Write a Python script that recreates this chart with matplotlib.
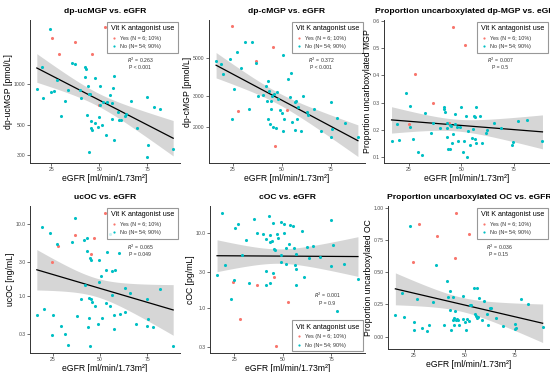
import numpy as np
import matplotlib
matplotlib.use('Agg')
import matplotlib.pyplot as plt
from matplotlib.lines import Line2D

plt.rcParams['font.family'] = ['Liberation Sans', 'DejaVu Sans']

# ---- data ----
# 1. dp-ucMGP [pmol/L]
ucmgp_yes_x = [25.5, 37.5, 53.0, 28.8, 46.0, 50.0]
ucmgp_yes_y = [2175, 2050, 2655, 1660, 1670, 700]
ucmgp_no_x = [24.1, 20.3, 17.4, 20.8, 26.3, 27.7, 33.5, 32.3, 30.1, 35.7, 37.5, 40.6, 42.3, 43.2,
              42.3, 44.1, 44.5, 43.7, 45.4, 45.9, 46.3, 44.5, 47.7, 47.7, 49.2, 49.9, 50.3, 50.6,
              51.5, 53.5, 54.0, 55.3, 56.6, 57.2, 56.8, 57.9, 57.7, 59.9, 60.5, 61.4, 63.2, 66.3,
              69.4, 74.8, 75.4, 74.6, 78.3, 81.5, 88.5, 40.0, 25.0, 52.0, 64.0, 45.0]
ucmgp_no_y = [2535, 1337, 915, 791, 895, 1075, 900, 757, 582, 1429, 1406, 787, 1337, 1300,
              1124, 962, 841, 589, 532, 476, 458, 315, 1100, 517, 481, 569, 962, 703,
              504, 421, 736, 828, 728, 940, 557, 1143, 390, 622, 547, 544, 582, 754,
              476, 805, 356, 293, 678, 652, 334, 904, 880, 740, 600, 840]

# 2. dp-cMGP [pmol/L]
cmgp_yes_x = [24.6, 45.6, 36.9, 27.8, 52.4, 46.7]
cmgp_yes_y = [7650, 5800, 4820, 2460, 2505, 1540]
cmgp_no_x = [16.5, 19.1, 20.2, 23.5, 26.9, 25.6, 24.6, 29.4, 31.1, 34.8, 36.9, 33.1, 40.2, 42.0,
             42.9, 42.6, 43.5, 44.8, 44.4, 44.3, 42.9, 43.9, 45.7, 47.0, 47.4, 49.1, 50.0, 50.4,
             50.8, 51.3, 53.0, 54.3, 54.8, 55.4, 56.5, 56.5, 57.4, 57.8, 59.8, 60.6, 62.6, 63.3,
             66.1, 69.8, 75.0, 75.0, 75.7, 78.1, 81.9, 88.7, 46.0, 38.0, 58.0, 48.0]
cmgp_no_y = [4800, 4655, 4045, 4955, 5460, 3300, 2200, 4400, 6200, 6200, 4720, 2535, 3070, 3455,
             3690, 2830, 3220, 3030, 2830, 2517, 2205, 2065, 1980, 1970, 3160, 2484, 2410, 1876,
             5240, 2205, 3785, 2985, 4075, 2135, 1905, 2785, 2833, 2205, 1890, 3030, 2428, 2322,
             2516, 1876, 2785, 1740, 1930, 2254, 2110, 1745, 3100, 3000, 2600, 2900]

# 3. proportion uncarboxylated dp-MGP
pmgp_yes_x = [46.2, 51.9, 28.0, 36.6, 24.8, 43.9]
pmgp_yes_y = [0.580, 0.512, 0.404, 0.298, 0.223, 0.224]
pmgp_no_x = [16.6, 19.3, 20.2, 23.4, 25.2, 25.4, 27.0, 29.4, 31.2, 32.7, 35.5, 36.6, 39.8, 41.5,
             41.5, 42.4, 43.0, 43.3, 43.3, 43.7, 44.4, 44.8, 45.1, 45.6, 46.2, 46.9, 46.9, 47.8,
             48.3, 49.2, 49.7, 50.6, 51.5, 52.2, 52.8, 53.3, 54.0, 54.9, 55.8, 56.0, 56.5, 56.5,
             56.9, 57.2, 59.0, 59.9, 61.7, 62.1, 65.7, 68.8, 74.1, 74.6, 77.3, 81.2, 88.8]
pmgp_no_y = [0.160, 0.223, 0.163, 0.337, 0.286, 0.211, 0.166, 0.118, 0.107, 0.263, 0.187, 0.227,
             0.205, 0.283, 0.275, 0.265, 0.208, 0.227, 0.172, 0.130, 0.130, 0.218, 0.214, 0.151,
             0.184, 0.220, 0.257, 0.212, 0.159, 0.212, 0.283, 0.118, 0.160, 0.251, 0.102, 0.194,
             0.145, 0.169, 0.202, 0.251, 0.249, 0.166, 0.151, 0.283, 0.251, 0.151, 0.187, 0.199,
             0.227, 0.205, 0.146, 0.157, 0.233, 0.235, 0.160]

# 4. ucOC [ng/mL]
ucoc_yes_x = [52.6, 36.6, 46.5, 27.8, 45.4, 24.4]
ucoc_yes_y = [14.5, 7.1, 6.5, 4.93, 3.9, 2.98]
ucoc_no_x = [19.1, 23.2, 26.9, 34.9, 36.6, 41.5, 43.0, 42.8, 44.9, 45.2, 49.3, 53.5, 55.3, 59.9,
             52.9, 56.4, 57.7, 50.7, 49.4, 41.9, 56.1, 63.0, 65.8, 82.0, 39.7, 43.9, 45.2, 45.6,
             47.1, 52.9, 55.3, 63.0, 75.0, 75.6, 20.0, 16.4, 25.0, 37.9, 43.9, 51.1, 57.2, 60.3,
             29.2, 43.8, 49.1, 57.2, 69.1, 75.0, 78.3, 24.6, 31.1, 32.7, 44.7, 88.8]
ucoc_no_y = [9.18, 7.65, 5.26, 5.66, 12.4, 6.1, 6.4, 4.25, 3.36, 3.2, 3.15, 4.11, 7.25, 3.93,
             2.28, 2.23, 2.28, 1.9, 1.57, 1.41, 1.05, 1.31, 1.09, 1.24, 0.918, 0.95, 0.918, 0.824,
             0.725, 0.8, 0.725, 0.6, 0.918, 0.483, 0.652, 0.544, 0.544, 0.537, 0.488, 0.488, 0.544, 0.565,
             0.381, 0.375, 0.403, 0.35, 0.414, 0.385, 0.375, 0.292, 0.301, 0.212, 0.2, 0.2]

# 5. cOC [ng/mL]
coc_yes_x = [24.4, 36.4, 45.4, 52.4, 27.9, 46.3]
coc_yes_y = [2.24, 2.02, 2.64, 1.19, 0.719, 0.305]
coc_no_x = [18.8, 26.7, 25.2, 30.9, 34.9, 36.4, 39.9, 41.3, 42.8, 43.5, 44.7, 44.5, 43.2, 47.2,
            49.1, 50.6, 50.8, 51.5, 53.0, 53.9, 55.1, 55.7, 56.6, 56.4, 56.6, 45.4, 46.0, 49.3,
            48.8, 51.5, 44.7, 41.3, 41.3, 43.5, 32.5, 25.0, 16.0, 20.0, 29.0, 57.0, 60.7, 59.7,
            62.5, 63.4, 65.6, 69.3, 75.0, 75.7, 75.0, 81.8, 88.8, 23.0, 77.8, 47.5]
coc_no_y = [19.0, 13.2, 11.9, 8.05, 15.7, 10.0, 9.9, 8.3, 17.1, 9.4, 13.9, 7.9, 7.6, 9.9,
            14.2, 13.2, 10.0, 6.4, 7.26, 12.8, 12.5, 6.4, 5.33, 3.75, 3.38, 6.1, 6.0, 5.2,
            4.16, 3.91, 2.9, 3.11, 2.06, 2.17, 2.17, 2.36, 2.75, 3.75, 5.06, 2.02, 2.64, 10.7,
            6.55, 4.7, 6.76, 4.86, 15.1, 6.9, 3.64, 3.83, 2.48, 1.32, 0.92, 8.8]

# 6. proportion uncarboxylated OC
poc_yes_x = [46.0, 27.6, 36.2, 52.0, 45.2, 24.4]
poc_yes_y = [0.962, 0.873, 0.782, 0.792, 0.608, 0.577]
poc_no_x = [23.0, 36.0, 15.8, 18.9, 20.0, 25.0, 25.0, 26.3, 29.0, 31.2, 32.4, 34.6, 39.7, 41.4,
            41.9, 42.8, 42.8, 43.2, 44.1, 44.1, 44.7, 44.9, 45.2, 46.0, 46.1, 47.0, 47.4, 49.3,
            49.3, 50.2, 50.7, 51.1, 52.4, 52.9, 53.3, 54.8, 55.3, 55.7, 56.3, 56.6, 56.3, 57.0,
            58.5, 59.7, 61.2, 62.5, 63.0, 61.8, 65.4, 69.1, 75.0, 75.4, 75.0, 77.9, 81.4, 88.6]
poc_no_y = [0.856, 0.557, 0.170, 0.337, 0.152, 0.116, 0.048, 0.291, 0.071, 0.046, 0.089, 0.266,
            0.089, 0.430, 0.311, 0.354, 0.203, 0.051, 0.304, 0.127, 0.144, 0.094, 0.200, 0.127,
            0.139, 0.132, 0.089, 0.316, 0.139, 0.114, 0.048, 0.134, 0.119, 0.248, 0.248, 0.380,
            0.177, 0.157, 0.147, 0.152, 0.380, 0.299, 0.127, 0.278, 0.177, 0.223, 0.223, 0.089,
            0.144, 0.084, 0.096, 0.068, 0.058, 0.291, 0.253, 0.078]

titles = ['dp-ucMGP vs. eGFR', 'dp-cMGP vs. eGFR', 'Proportion uncarboxylated dp-MGP vs. eGFR',
          'ucOC vs. eGFR', 'cOC vs. eGFR', 'Proportion uncarboxylated OC vs. eGFR']
ylabels = ['dp-ucMGP [pmol/L]', 'dp-cMGP [pmol/L]', 'Proportion uncarboxylated MGP',
           'ucOC [ng/mL]', 'cOC [pg/mL]', 'Proportion uncarboxylated OC']
r2_texts = ['0.263', '0.372', '0.007', '0.065', '0.001', '0.036']
p_texts = ['P < 0.001', 'P < 0.001', 'P = 0.5', 'P = 0.049', 'P = 0.9', 'P = 0.15']
yticks = [[300, 500, 1000], [2000, 3000, 5000], [0.1, 0.2, 0.3, 0.4, 0.5, 0.6],
          [0.3, 1.0, 3.0, 10.0], [0.3, 1.0, 3.0, 10.0], [0.0, 0.25, 0.5, 0.75, 1.0]]
ytick_labels = [['300', '500', '1000'], ['2000', '3000', '5000'],
                ['0.1', '0.2', '0.3', '0.4', '0.5', '0.6'],
                ['0.3', '1.0', '3.0', '10.0'], ['0.3', '1.0', '3.0', '10.0'],
                ['0.00', '0.25', '0.50', '0.75', '1.00']]
legend_labels = ['Yes (N = 6; 10%)', 'No (N= 54; 90%)']

RED = '#F8766D'
CYAN = '#00BFC4'
W, H = 550.0, 372.0


def panel(fig, box, title, ylabel, yes_x, yes_y, no_x, no_y, log, ticks, tlabels,
          r2, p, leg_loc, txt_xy):
    l, t, r, b = box
    ax = fig.add_axes([l / W, 1 - b / H, (r - l) / W, (b - t) / H])
    x = np.array(yes_x + no_x, dtype=float)
    y = np.array(yes_y + no_y, dtype=float)
    yt = np.log10(y) if log else y
    slope, inter = np.polyfit(x, yt, 1)
    n = len(x)
    s = np.sqrt(np.sum((yt - (inter + slope * x)) ** 2) / (n - 2))
    xs = np.linspace(x.min(), x.max(), 100)
    pred = inter + slope * xs
    se = s * np.sqrt(1.0 / n + (xs - x.mean()) ** 2 / np.sum((x - x.mean()) ** 2))
    lo, hi = pred - 2.0 * se, pred + 2.0 * se
    allv = np.concatenate([yt, lo, hi])
    ymin, ymax = allv.min(), allv.max()
    pad = 0.05 * (ymax - ymin)
    ymin, ymax = ymin - pad, ymax + pad
    if log:
        ax.set_yscale('log')
        pred, lo, hi = 10 ** pred, 10 ** lo, 10 ** hi
        ymin, ymax = 10 ** ymin, 10 ** ymax
    ax.fill_between(xs, lo, hi, color='#999999', alpha=0.4, lw=0, zorder=2)
    ax.plot(xs, pred, color='black', lw=0.9, zorder=3)
    ax.scatter(yes_x, yes_y, s=5, color=RED, lw=0, zorder=4)
    ax.scatter(no_x, no_y, s=5, color=CYAN, lw=0, zorder=4)
    xpad = 0.05 * (x.max() - x.min())
    ax.set_xlim(x.min() - xpad, x.max() + xpad)
    ax.set_ylim(ymin, ymax)
    ax.set_xticks([25, 50, 75])
    ax.set_xticklabels(['25', '50', '75'])
    ax.set_yticks(ticks)
    ax.set_yticklabels(tlabels)
    ax.minorticks_off()
    for sp in ['top', 'right']:
        ax.spines[sp].set_visible(False)
    for sp in ['left', 'bottom']:
        ax.spines[sp].set_color('#333333')
        ax.spines[sp].set_linewidth(0.7)
    ax.tick_params(length=2, width=0.5, color='#333333', labelsize=3.7,
                   labelcolor='#4d4d4d', pad=1.2)
    ax.set_title(title, fontsize=6.1, fontweight='bold', pad=5)
    ax.set_ylabel(ylabel, fontsize=6.2, labelpad=0.5)
    ax.set_xlabel('eGFR [ml/min/1.73m²]', fontsize=6.2, labelpad=1)
    ax.text(txt_xy[0], txt_xy[1], '$R^2$ = ' + r2, transform=ax.transAxes,
            ha='center', va='center', fontsize=3.7, color='#333333')
    ax.text(txt_xy[0], txt_xy[1] - 0.05, p, transform=ax.transAxes,
            ha='center', va='center', fontsize=3.7, color='#333333')
    handles = [Line2D([], [], ls='none', marker='o', ms=1.6, mfc=RED, mec='none'),
               Line2D([], [], ls='none', marker='o', ms=1.6, mfc=CYAN, mec='none')]
    leg = ax.legend(handles, legend_labels, title='Vit K antagonist use', loc=leg_loc,
                    fontsize=3.9, title_fontsize=5.1, frameon=True, fancybox=False,
                    borderaxespad=0.3, handlelength=1.2, handletextpad=0.4,
                    borderpad=0.7, labelspacing=0.6)
    leg.get_frame().set_edgecolor('#7f7f7f')
    leg.get_frame().set_linewidth(0.8)
    leg._legend_box.align = 'left'
    for tx in leg.get_texts():
        tx.set_color('#333333')
    return ax


fig = plt.figure(figsize=(5.5, 3.72), dpi=100)
# boxes in pixels: left, top, right, bottom
boxes = [(30, 20, 180, 163), (209, 20, 365, 163), (384, 20, 550, 163),
         (30, 206, 180, 353), (210, 206, 365, 353), (388, 206, 550, 349)]
series = [(ucmgp_yes_x, ucmgp_yes_y, ucmgp_no_x, ucmgp_no_y, True),
          (cmgp_yes_x, cmgp_yes_y, cmgp_no_x, cmgp_no_y, True),
          (pmgp_yes_x, pmgp_yes_y, pmgp_no_x, pmgp_no_y, False),
          (ucoc_yes_x, ucoc_yes_y, ucoc_no_x, ucoc_no_y, True),
          (coc_yes_x, coc_yes_y, coc_no_x, coc_no_y, True),
          (poc_yes_x, poc_yes_y, poc_no_x, poc_no_y, False)]
leg_locs = ['upper right', 'upper right', 'upper right', 'upper right', 'lower right', 'upper right']
txt_pos = [(0.733, 0.72), (0.72, 0.72), (0.70, 0.72), (0.733, 0.72), (0.755, 0.39), (0.685, 0.71)]

for i in range(6):
    yx, yy, nx, ny, lg = series[i]
    panel(fig, boxes[i], titles[i], ylabels[i], yx, yy, nx, ny, lg, yticks[i], ytick_labels[i],
          r2_texts[i], p_texts[i], leg_locs[i], txt_pos[i])

fig.savefig('out.png', dpi=100)
